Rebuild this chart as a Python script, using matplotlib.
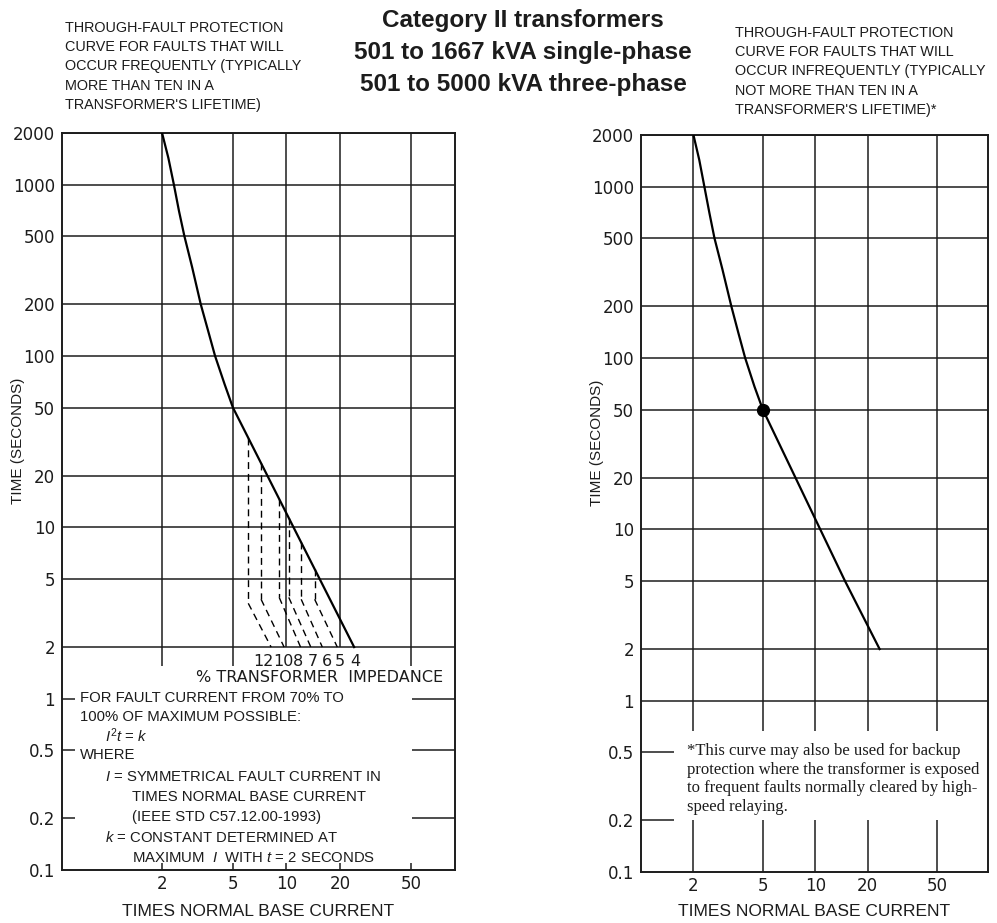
import matplotlib
matplotlib.use("Agg")
import matplotlib.pyplot as plt
import numpy as np
from matplotlib.ticker import FixedLocator, FixedFormatter, NullLocator

plt.rcParams['font.family'] = ['Liberation Sans', 'DejaVu Sans']
plt.rcParams['mathtext.fontset'] = 'custom'
plt.rcParams['mathtext.rm'] = 'Liberation Sans'
plt.rcParams['mathtext.it'] = 'Liberation Sans:italic'

# ---- axis ticks -------------------------------------------------------
time_ticks = [0.1, 0.2, 0.5, 1, 2, 5, 10, 20, 50, 100, 200, 500, 1000, 2000]
time_labels = ['0.1', '0.2', '0.5', '1', '2', '5', '10', '20', '50',
               '100', '200', '500', '1000', '2000']
current_ticks = [2, 5, 10, 20, 50]
current_labels = ['2', '5', '10', '20', '50']

# ---- frequent-fault curve (left) -------------------------------------
freq_current = [2.0, 2.17, 2.33, 2.49, 2.67, 2.95, 3.30, 3.63, 3.97,
                4.50, 5.0, 24.0]
freq_time = [2000, 1430, 1000, 700, 500, 330, 200, 140, 100, 68, 50, 2]

# I^2 t = k branches for each % transformer impedance
impedance_pct = ['12', '10', '8', '7', '6', '5', '4']
impedance_label_current = [7.4, 9.6, 11.6, 14.1, 16.9, 20.0, 24.3]
branch_start_current = [6.1, 7.2, 9.1, 10.3, 12.1, 14.4]
branch_knee_time = [3.6, 3.8, 3.9, 3.9, 3.8, 3.8]
branch_end_current = [8.2, 9.7, 12.0, 13.7, 15.9, 19.3]

# ---- infrequent-fault curve (right) ----------------------------------
infreq_current = [2.0, 2.16, 2.31, 2.47, 2.64, 2.93, 3.30, 3.62, 3.96,
                  4.48, 5.0, 14.8, 23.4]
infreq_time = [2000, 1430, 1000, 700, 500, 330, 200, 140, 100, 68, 50, 5, 2]
marker_current = [5.0]
marker_time = [50]

# ---- texts ------------------------------------------------------------
title_lines = ['Category II transformers',
               '501 to 1667 kVA single-phase',
               '501 to 5000 kVA three-phase']
left_note = ['THROUGH-FAULT PROTECTION',
             'CURVE FOR FAULTS THAT WILL',
             'OCCUR FREQUENTLY (TYPICALLY',
             'MORE THAN TEN IN A',
             "TRANSFORMER'S LIFETIME)"]
right_note = ['THROUGH-FAULT PROTECTION',
              'CURVE FOR FAULTS THAT WILL',
              'OCCUR INFREQUENTLY (TYPICALLY',
              'NOT MORE THAN TEN IN A',
              "TRANSFORMER'S LIFETIME)*"]
footnote = ['*This curve may also be used for backup',
            'protection where the transformer is exposed',
            'to frequent faults normally cleared by high-',
            'speed relaying.']
formula_lines = [
    (0, 'FOR FAULT CURRENT FROM 70% TO'),
    (0, '100% OF MAXIMUM POSSIBLE:'),
    (1, r'$I^2t$ = $k$'),
    (0, 'WHERE'),
    (1, r'$I$ = SYMMETRICAL FAULT CURRENT IN'),
    (2, 'TIMES NORMAL BASE CURRENT'),
    (2, '(IEEE STD C57.12.00-1993)'),
    (1, r'$k$ = CONSTANT DETERMINED AT'),
    (2, r'MAXIMUM  $I$  WITH $t$ = 2 SECONDS'),
]

INK = '#1c1c1c'
W, H = 997, 923


def fx(px):
    return px / W


def fy(py):
    return 1 - py / H


fig = plt.figure(figsize=(W / 100, H / 100), dpi=100)
axL = fig.add_axes([fx(62), fy(870), 393 / W, 737 / H])
axR = fig.add_axes([fx(641), fy(872), 347 / W, 737 / H])


def setup(ax, xlim, xtick_len):
    ax.set_xscale('log')
    ax.set_yscale('log')
    ax.set_xlim(*xlim)
    ax.set_ylim(0.1, 2000)
    ax.xaxis.set_major_locator(FixedLocator(current_ticks))
    ax.xaxis.set_major_formatter(FixedFormatter(current_labels))
    ax.yaxis.set_major_locator(FixedLocator(time_ticks))
    ax.yaxis.set_major_formatter(FixedFormatter(time_labels))
    ax.xaxis.set_minor_locator(NullLocator())
    ax.yaxis.set_minor_locator(NullLocator())
    ax.tick_params(axis='y', length=0, pad=5, labelsize=12,
                   labelcolor=INK, labelfontfamily='DejaVu Sans')
    ax.tick_params(axis='x', direction='in', length=xtick_len, width=1.1,
                   color=INK, pad=3.5, labelsize=12, labelcolor=INK,
                   labelfontfamily='DejaVu Sans')
    for s in ax.spines.values():
        s.set_color(INK)
        s.set_linewidth(1.4)
    grid_kw = dict(color=INK, lw=1.1, zorder=1)
    for t in time_ticks:
        if t >= 2:
            ax.axhline(t, **grid_kw)
    return grid_kw


# ---------------- left chart ----------------
gk = setup(axL, (0.548, 88.5), 5)
xl0, xl1 = axL.get_xlim()
for t in [1, 0.5, 0.2]:
    axL.hlines(t, xl0, 0.65, **gk)
    axL.hlines(t, 50.8, xl1, **gk)
for c in current_ticks:
    bottom = 2 if c in (10, 20) else 1.55
    axL.vlines(c, bottom, 2000, **gk)

axL.plot(freq_current, freq_time, color='black', lw=1.6, zorder=3)

log_c = np.log10(freq_current)
log_t = np.log10(freq_time)
for x0, tk, x1 in zip(branch_start_current, branch_knee_time,
                      branch_end_current):
    ttop = 10 ** np.interp(np.log10(x0), log_c, log_t)
    axL.plot([x0, x0], [ttop, tk], color='black', lw=1.0,
             dashes=(5, 3.5), zorder=2)
    axL.plot([x0, x1], [tk, 2], color='black', lw=1.0,
             dashes=(5, 3.5), zorder=2)

for lab, c in zip(impedance_pct, impedance_label_current):
    axL.text(c, 1.83, lab, ha='center', va='top', fontsize=11.5,
             family='DejaVu Sans', color=INK)
fig.text(fx(320), fy(678), '% TRANSFORMER  IMPEDANCE', ha='center',
         va='center', fontsize=11.5, family='DejaVu Sans', color=INK)

indent = [80, 105, 132]
form_y = [698, 717, 736, 755, 777, 797, 817, 838, 858]
for (lvl, txt), y in zip(formula_lines, form_y):
    fig.text(fx(indent[lvl]), fy(y), txt, ha='left', va='center',
             fontsize=10.7, color=INK)

# ---------------- right chart ----------------
gk = setup(axR, (1.0, 98.0), 0)
xr0, xr1 = axR.get_xlim()
axR.axhline(1, **gk)
for t in [0.5, 0.2]:
    axR.hlines(t, xr0, 1.54, **gk)
for c in current_ticks:
    axR.vlines(c, 0.667, 2000, **gk)
    axR.vlines(c, 0.1, 0.2, **gk)

axR.plot(infreq_current, infreq_time, color='black', lw=1.6, zorder=3)
axR.plot(marker_current, marker_time, 'o', color='black', ms=8.5, zorder=4)

for i, line in enumerate(footnote):
    fig.text(fx(687), fy(751 + 18.7 * i), line, ha='left', va='center',
             fontsize=12.0, family='Liberation Serif', color=INK)

# ---------------- axis titles ----------------
for cx in (258, 814):
    fig.text(fx(cx), fy(911), 'TIMES NORMAL BASE CURRENT', ha='center',
             va='center', fontsize=12.5, color=INK)
fig.text(fx(18), fy(441), 'TIME (SECONDS)', rotation=90, ha='center',
         va='center', fontsize=11, color=INK)
fig.text(fx(597), fy(443), 'TIME (SECONDS)', rotation=90, ha='center',
         va='center', fontsize=11, color=INK)

# ---------------- headings ----------------
for i, line in enumerate(title_lines):
    fig.text(fx(523), fy(21 + 32 * i), line, ha='center', va='center',
             fontsize=17.5, fontweight='bold', color=INK)
for i, line in enumerate(left_note):
    fig.text(fx(65), fy(28 + 19.2 * i), line, ha='left', va='center',
             fontsize=10.4, color=INK)
for i, line in enumerate(right_note):
    fig.text(fx(735), fy(33 + 19.2 * i), line, ha='left', va='center',
             fontsize=10.4, color=INK)

fig.savefig('out.png', dpi=100, facecolor='white')
